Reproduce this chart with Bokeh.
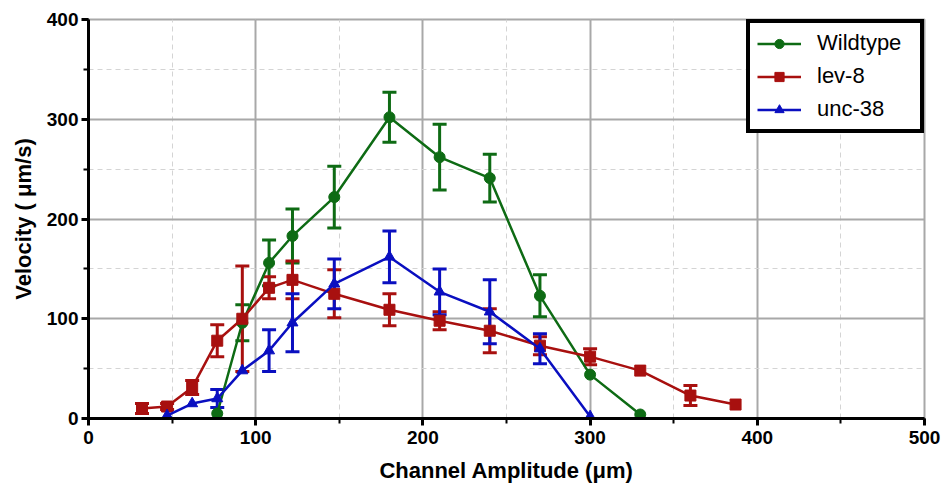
from bokeh.plotting import figure
from bokeh.models import ColumnDataSource, Whisker, TeeHead, SingleIntervalTicker, Range1d
from bokeh.embed import file_html
from bokeh.resources import INLINE

# Data (Channel amplitude in um, velocity in um/s, SEM)
wt_x = [77, 92, 108, 122, 147, 180, 210, 240, 270, 300, 330]
wt_y = [5, 96, 156, 183, 222, 302, 262, 241, 123, 44, 4]
wt_e = [0, 18, 23, 27, 31, 25, 33, 24, 21, 0, 0]

lev_x = [32, 47, 62, 77, 92, 108, 122, 147, 180, 210, 240, 270, 300, 330, 360, 387]
lev_y = [10, 12, 31, 78, 100, 131, 139, 125, 109, 98, 88, 73, 62, 48, 23, 14]
lev_e = [5, 3, 7, 16, 53, 11, 19, 24, 16, 9, 22, 9, 8, 0, 10, 0]

unc_x = [47, 62, 77, 92, 108, 122, 147, 180, 210, 240, 270, 300]
unc_y = [3, 15, 20, 48, 68, 96, 135, 162, 127, 107, 70, 2]
unc_e = [0, 0, 9, 0, 21, 29, 25, 26, 23, 32, 15, 0]

series = [
    ("Wildtype", wt_x, wt_y, wt_e, "#0e6b14", "circle", 11),
    ("lev-8", lev_x, lev_y, lev_e, "#a8100f", "square", 11),
    ("unc-38", unc_x, unc_y, unc_e, "#0a0fc0", "triangle", 11),
]

FONT = "Liberation Sans"

p = figure(width=943, height=486, output_backend="svg", toolbar_location=None,
           x_range=Range1d(0, 500), y_range=Range1d(0, 400),
           min_border_left=88, min_border_right=19, min_border_top=19, min_border_bottom=68)
p.background_fill_color = "white"
p.border_fill_color = "white"
p.outline_line_color = "#a8a8a8"
p.outline_line_width = 2

p.xaxis.ticker = SingleIntervalTicker(interval=100, num_minor_ticks=2)
p.yaxis.ticker = SingleIntervalTicker(interval=100, num_minor_ticks=2)

for ax in (p.xaxis, p.yaxis):
    ax.axis_line_color = "black"
    ax.axis_line_width = 3
    ax.major_tick_line_color = "black"
    ax.major_tick_line_width = 3
    ax.major_tick_out = 7
    ax.major_tick_in = 0
    ax.minor_tick_line_color = "black"
    ax.minor_tick_line_width = 2
    ax.minor_tick_out = 5
    ax.minor_tick_in = 0
    ax.major_label_text_font = FONT
    ax.major_label_text_font_style = "bold"
    ax.major_label_text_font_size = "19px"
    ax.major_label_text_color = "black"
    ax.axis_label_text_font = FONT
    ax.axis_label_text_font_style = "bold"
    ax.axis_label_text_color = "black"

p.xaxis.axis_label = "Channel Amplitude (\u03bcm)"
p.yaxis.axis_label = "Velocity ( \u03bcm/s)"
p.xaxis.axis_label_text_font_size = "22px"
p.yaxis.axis_label_text_font_size = "22px"
p.xaxis.major_label_standoff = 5
p.yaxis.major_label_standoff = 3
p.xaxis.axis_label_standoff = 11
p.yaxis.axis_label_standoff = 8

for g in (p.xgrid, p.ygrid):
    g.grid_line_color = "#a8a8a8"
    g.grid_line_width = 2
    g.minor_grid_line_color = "#d4d4d4"
    g.minor_grid_line_width = 1
    g.minor_grid_line_dash = "5 4"

for name, xs, ys, es, color, marker, size in series:
    p.line(xs, ys, line_color=color, line_width=2.5, legend_label=name)
    p.scatter(xs, ys, marker=marker, size=size, fill_color=color, line_color=color,
              legend_label=name)
    bx = [x for x, e in zip(xs, es) if e > 0]
    by = [y for y, e in zip(ys, es) if e > 0]
    be = [e for e in es if e > 0]
    src = ColumnDataSource(dict(x=bx, lo=[y - e for y, e in zip(by, be)],
                                hi=[y + e for y, e in zip(by, be)]))
    w = Whisker(source=src, base="x", lower="lo", upper="hi",
                line_color=color, line_width=3,
                upper_head=TeeHead(size=14, line_color=color, line_width=3),
                lower_head=TeeHead(size=14, line_color=color, line_width=3))
    p.add_layout(w)

lg = p.legend[0]
lg.location = "top_right"
lg.margin = 0
lg.border_line_color = "black"
lg.border_line_width = 4
lg.border_line_alpha = 1
lg.background_fill_color = "white"
lg.background_fill_alpha = 1
lg.label_text_font = FONT
lg.label_text_font_size = "22px"
lg.label_text_color = "black"
lg.padding = 7
lg.spacing = 7
lg.glyph_width = 44
lg.label_standoff = 16
lg.label_height = 23
lg.glyph_height = 23
lg.label_width = 96

open("out.html", "w").write(file_html(p, INLINE))
